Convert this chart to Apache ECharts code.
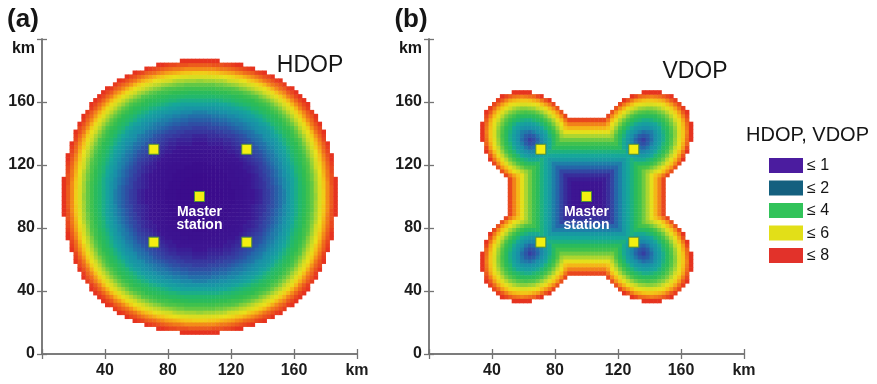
<!DOCTYPE html>
<html>
<head>
<meta charset="utf-8">
<script src="https://cdn.jsdelivr.net/npm/echarts@6/dist/echarts.min.js"></script>
<style>
  html, body { margin: 0; padding: 0; background: #ffffff; }
  #chart { width: 877px; height: 384px; }
</style>
</head>
<body>
<div id="chart"></div>
<script>
// ---- Data -----------------------------------------------------------------
const _ = null;   // cell outside the DOP <= 8 service area

// Axis ticks (km)
const axisTicks = [0, 40, 80, 120, 160, 200];

// Station positions (km)
const masterStation = [100, 100];
const slaveStationsX = [71, 130, 71, 130];
const slaveStationsY = [71, 71, 130, 130];

// Both DOP patterns are symmetric about the master station, so one quadrant is
// stored: row j / column i is the 2.5 km cell whose centre lies (i + 0.5) cells
// across and (j + 0.5) cells up from the master station.
const cellKm = 2.5;

const hdopQuadrant = [
  [0.6, 0.6, 0.6, 0.6, 0.6, 0.6, 0.7, 0.7, 0.7, 0.8, 0.8, 0.9, 1.0, 1.0, 1.1, 1.2, 1.4, 1.5, 1.7, 1.9, 2.1, 2.3, 2.6, 2.9, 3.2, 3.5, 3.8, 4.2, 4.6, 5.0, 5.7, 6.3, 7.1, 7.6, 8.0],
  [0.6, 0.6, 0.6, 0.6, 0.6, 0.6, 0.7, 0.7, 0.7, 0.8, 0.8, 0.9, 1.0, 1.0, 1.1, 1.2, 1.4, 1.5, 1.7, 1.9, 2.1, 2.3, 2.6, 2.9, 3.2, 3.5, 3.8, 4.2, 4.6, 5.1, 5.7, 6.3, 7.1, 7.6, 8.0],
  [0.6, 0.6, 0.6, 0.6, 0.6, 0.7, 0.7, 0.7, 0.8, 0.8, 0.8, 0.9, 1.0, 1.1, 1.2, 1.3, 1.4, 1.6, 1.7, 1.9, 2.1, 2.4, 2.6, 2.9, 3.2, 3.5, 3.8, 4.2, 4.6, 5.1, 5.7, 6.4, 7.1, 7.6, 8.0],
  [0.6, 0.6, 0.6, 0.6, 0.6, 0.7, 0.7, 0.7, 0.8, 0.8, 0.9, 0.9, 1.0, 1.1, 1.2, 1.3, 1.4, 1.6, 1.8, 2.0, 2.2, 2.4, 2.6, 2.9, 3.2, 3.5, 3.9, 4.2, 4.6, 5.1, 5.8, 6.4, 7.1, 7.7, 8.0],
  [0.6, 0.6, 0.6, 0.6, 0.7, 0.7, 0.7, 0.8, 0.8, 0.8, 0.9, 0.9, 1.0, 1.1, 1.2, 1.3, 1.5, 1.6, 1.8, 2.0, 2.2, 2.4, 2.7, 2.9, 3.2, 3.6, 3.9, 4.3, 4.7, 5.2, 5.8, 6.5, 7.2, 7.7, 8.0],
  [0.6, 0.6, 0.7, 0.7, 0.7, 0.7, 0.7, 0.8, 0.8, 0.9, 0.9, 1.0, 1.0, 1.1, 1.2, 1.4, 1.5, 1.7, 1.9, 2.1, 2.3, 2.5, 2.7, 3.0, 3.3, 3.6, 4.0, 4.3, 4.7, 5.2, 5.9, 6.6, 7.3, 7.7],
  [0.7, 0.7, 0.7, 0.7, 0.7, 0.7, 0.8, 0.8, 0.8, 0.9, 0.9, 1.0, 1.1, 1.2, 1.3, 1.4, 1.6, 1.7, 1.9, 2.1, 2.3, 2.5, 2.8, 3.0, 3.4, 3.7, 4.0, 4.4, 4.8, 5.3, 6.0, 6.7, 7.3, 7.8],
  [0.7, 0.7, 0.7, 0.7, 0.8, 0.8, 0.8, 0.8, 0.9, 0.9, 1.0, 1.1, 1.1, 1.2, 1.3, 1.5, 1.6, 1.8, 2.0, 2.2, 2.4, 2.6, 2.8, 3.1, 3.4, 3.7, 4.1, 4.4, 4.9, 5.5, 6.1, 6.8, 7.4, 7.8],
  [0.7, 0.7, 0.8, 0.8, 0.8, 0.8, 0.8, 0.9, 0.9, 1.0, 1.0, 1.1, 1.2, 1.3, 1.4, 1.5, 1.7, 1.9, 2.1, 2.3, 2.4, 2.7, 2.9, 3.2, 3.5, 3.8, 4.2, 4.5, 5.0, 5.6, 6.2, 6.9, 7.5, 7.9],
  [0.8, 0.8, 0.8, 0.8, 0.8, 0.9, 0.9, 0.9, 1.0, 1.0, 1.1, 1.2, 1.3, 1.4, 1.5, 1.6, 1.8, 2.0, 2.2, 2.3, 2.5, 2.7, 3.0, 3.3, 3.6, 3.9, 4.2, 4.6, 5.1, 5.7, 6.4, 7.1, 7.6, 8.0],
  [0.8, 0.8, 0.8, 0.9, 0.9, 0.9, 0.9, 1.0, 1.0, 1.1, 1.2, 1.3, 1.3, 1.5, 1.6, 1.7, 1.9, 2.1, 2.2, 2.4, 2.6, 2.8, 3.1, 3.4, 3.7, 4.0, 4.3, 4.8, 5.3, 5.9, 6.5, 7.2, 7.7, 8.0],
  [0.9, 0.9, 0.9, 0.9, 0.9, 1.0, 1.0, 1.1, 1.1, 1.2, 1.3, 1.3, 1.4, 1.6, 1.7, 1.8, 2.0, 2.2, 2.3, 2.5, 2.7, 2.9, 3.2, 3.5, 3.8, 4.1, 4.5, 4.9, 5.4, 6.0, 6.7, 7.4, 7.8],
  [1.0, 1.0, 1.0, 1.0, 1.0, 1.0, 1.1, 1.1, 1.2, 1.3, 1.3, 1.4, 1.6, 1.7, 1.8, 2.0, 2.1, 2.3, 2.4, 2.6, 2.8, 3.0, 3.3, 3.6, 3.9, 4.2, 4.6, 5.1, 5.6, 6.3, 6.9, 7.5, 7.9],
  [1.0, 1.0, 1.1, 1.1, 1.1, 1.1, 1.2, 1.2, 1.3, 1.4, 1.5, 1.6, 1.7, 1.8, 2.0, 2.1, 2.2, 2.4, 2.5, 2.7, 2.9, 3.2, 3.5, 3.8, 4.0, 4.4, 4.8, 5.3, 5.8, 6.5, 7.1, 7.6, 8.0],
  [1.1, 1.1, 1.2, 1.2, 1.2, 1.2, 1.3, 1.3, 1.4, 1.5, 1.6, 1.7, 1.8, 2.0, 2.1, 2.2, 2.4, 2.5, 2.6, 2.8, 3.1, 3.3, 3.6, 3.9, 4.2, 4.5, 5.0, 5.5, 6.1, 6.7, 7.3, 7.8],
  [1.2, 1.2, 1.3, 1.3, 1.3, 1.4, 1.4, 1.5, 1.5, 1.6, 1.7, 1.8, 2.0, 2.1, 2.2, 2.3, 2.5, 2.6, 2.8, 3.0, 3.2, 3.5, 3.8, 4.1, 4.4, 4.8, 5.2, 5.8, 6.3, 7.0, 7.5, 7.9],
  [1.4, 1.4, 1.4, 1.4, 1.5, 1.5, 1.6, 1.6, 1.7, 1.8, 1.9, 2.0, 2.1, 2.2, 2.4, 2.5, 2.6, 2.7, 2.9, 3.2, 3.4, 3.7, 3.9, 4.2, 4.6, 5.0, 5.5, 6.0, 6.6, 7.3, 7.7, 8.0],
  [1.5, 1.5, 1.6, 1.6, 1.6, 1.7, 1.7, 1.8, 1.9, 2.0, 2.1, 2.2, 2.3, 2.4, 2.5, 2.6, 2.7, 2.9, 3.1, 3.4, 3.6, 3.9, 4.1, 4.4, 4.8, 5.3, 5.8, 6.3, 7.0, 7.5, 7.8],
  [1.7, 1.7, 1.7, 1.8, 1.8, 1.9, 1.9, 2.0, 2.1, 2.2, 2.2, 2.3, 2.4, 2.5, 2.6, 2.8, 2.9, 3.1, 3.4, 3.6, 3.8, 4.1, 4.4, 4.7, 5.1, 5.6, 6.1, 6.7, 7.3, 7.7, 8.0],
  [1.9, 1.9, 1.9, 2.0, 2.0, 2.1, 2.1, 2.2, 2.3, 2.3, 2.4, 2.5, 2.6, 2.7, 2.8, 3.0, 3.2, 3.4, 3.6, 3.8, 4.0, 4.3, 4.6, 5.0, 5.4, 5.9, 6.5, 7.1, 7.5, 7.9],
  [2.1, 2.1, 2.1, 2.2, 2.2, 2.3, 2.3, 2.4, 2.4, 2.5, 2.6, 2.7, 2.8, 2.9, 3.1, 3.2, 3.4, 3.6, 3.8, 4.0, 4.3, 4.6, 4.9, 5.3, 5.8, 6.3, 6.9, 7.4, 7.7, 8.0],
  [2.3, 2.3, 2.4, 2.4, 2.4, 2.5, 2.5, 2.6, 2.7, 2.7, 2.8, 2.9, 3.0, 3.2, 3.3, 3.5, 3.7, 3.9, 4.1, 4.3, 4.6, 4.9, 5.3, 5.7, 6.2, 6.7, 7.2, 7.6, 7.9],
  [2.6, 2.6, 2.6, 2.6, 2.7, 2.7, 2.8, 2.8, 2.9, 3.0, 3.1, 3.2, 3.3, 3.5, 3.6, 3.8, 3.9, 4.1, 4.4, 4.6, 4.9, 5.3, 5.7, 6.1, 6.6, 7.2, 7.6, 7.9],
  [2.9, 2.9, 2.9, 2.9, 2.9, 3.0, 3.0, 3.1, 3.2, 3.3, 3.4, 3.5, 3.6, 3.8, 3.9, 4.1, 4.2, 4.4, 4.7, 5.0, 5.3, 5.7, 6.1, 6.6, 7.1, 7.5, 7.8, 8.0],
  [3.2, 3.2, 3.2, 3.2, 3.2, 3.3, 3.4, 3.4, 3.5, 3.6, 3.7, 3.8, 3.9, 4.0, 4.2, 4.4, 4.6, 4.8, 5.1, 5.4, 5.8, 6.2, 6.6, 7.1, 7.5, 7.8, 8.0],
  [3.5, 3.5, 3.5, 3.5, 3.6, 3.6, 3.7, 3.7, 3.8, 3.9, 4.0, 4.1, 4.2, 4.4, 4.5, 4.8, 5.0, 5.3, 5.6, 5.9, 6.3, 6.7, 7.2, 7.5, 7.8, 8.0],
  [3.8, 3.8, 3.8, 3.9, 3.9, 4.0, 4.0, 4.1, 4.2, 4.2, 4.3, 4.5, 4.6, 4.8, 5.0, 5.2, 5.5, 5.8, 6.1, 6.5, 6.9, 7.2, 7.6, 7.8, 8.0],
  [4.2, 4.2, 4.2, 4.2, 4.3, 4.3, 4.4, 4.4, 4.5, 4.6, 4.8, 4.9, 5.1, 5.3, 5.5, 5.8, 6.0, 6.3, 6.7, 7.1, 7.4, 7.6, 7.9, 8.0],
  [4.6, 4.6, 4.6, 4.6, 4.7, 4.7, 4.8, 4.9, 5.0, 5.1, 5.3, 5.4, 5.6, 5.8, 6.1, 6.3, 6.6, 7.0, 7.3, 7.5, 7.7, 7.9],
  [5.0, 5.1, 5.1, 5.1, 5.2, 5.2, 5.3, 5.5, 5.6, 5.7, 5.9, 6.0, 6.3, 6.5, 6.7, 7.0, 7.3, 7.5, 7.7, 7.9, 8.0],
  [5.7, 5.7, 5.7, 5.8, 5.8, 5.9, 6.0, 6.1, 6.2, 6.4, 6.5, 6.7, 6.9, 7.1, 7.3, 7.5, 7.7, 7.8, 8.0],
  [6.3, 6.3, 6.4, 6.4, 6.5, 6.6, 6.7, 6.8, 6.9, 7.1, 7.2, 7.4, 7.5, 7.6, 7.8, 7.9, 8.0],
  [7.1, 7.1, 7.1, 7.1, 7.2, 7.3, 7.3, 7.4, 7.5, 7.6, 7.7, 7.8, 7.9, 8.0],
  [7.6, 7.6, 7.6, 7.7, 7.7, 7.7, 7.8, 7.8, 7.9, 8.0, 8.0],
  [8.0, 8.0, 8.0, 8.0, 8.0]
];

const vdopQuadrant = [
  [0.9, 0.9, 1.0, 1.0, 1.1, 1.3, 1.6, 2.0, 2.3, 2.7, 3.0, 3.3, 3.8, 4.2, 4.7, 5.2, 5.9, 6.6, 7.2, 7.8],
  [0.9, 0.9, 1.0, 1.0, 1.1, 1.3, 1.6, 2.0, 2.3, 2.7, 3.0, 3.3, 3.8, 4.2, 4.7, 5.2, 5.9, 6.6, 7.2, 7.8],
  [1.0, 1.0, 1.0, 1.0, 1.1, 1.3, 1.6, 2.0, 2.3, 2.7, 3.0, 3.3, 3.8, 4.2, 4.7, 5.2, 5.9, 6.6, 7.2, 7.8],
  [1.0, 1.0, 1.0, 1.0, 1.1, 1.3, 1.6, 2.0, 2.3, 2.7, 3.0, 3.3, 3.8, 4.2, 4.7, 5.2, 5.9, 6.6, 7.2, 7.8],
  [1.1, 1.1, 1.1, 1.1, 1.1, 1.3, 1.6, 2.0, 2.3, 2.7, 3.0, 3.3, 3.8, 4.2, 4.7, 5.2, 5.9, 6.6, 7.2, 7.8],
  [1.3, 1.3, 1.3, 1.3, 1.3, 1.3, 1.6, 2.0, 2.3, 2.7, 3.0, 3.3, 3.8, 4.2, 4.7, 5.2, 5.9, 6.4, 6.8, 7.3, 7.8],
  [1.6, 1.6, 1.6, 1.6, 1.6, 1.6, 1.6, 2.0, 2.3, 2.7, 3.0, 3.3, 3.8, 4.2, 4.7, 5.0, 5.3, 5.7, 6.0, 6.5, 7.1, 7.7],
  [2.0, 2.0, 2.0, 2.0, 2.0, 2.0, 2.0, 2.0, 2.3, 2.7, 3.0, 3.3, 3.8, 4.2, 4.3, 4.4, 4.7, 5.0, 5.4, 5.9, 6.5, 7.0, 7.7],
  [2.3, 2.3, 2.3, 2.3, 2.3, 2.3, 2.3, 2.3, 2.3, 2.7, 3.0, 3.3, 3.7, 3.6, 3.7, 3.8, 4.1, 4.4, 4.8, 5.2, 5.8, 6.4, 7.1, 7.8],
  [2.7, 2.7, 2.7, 2.7, 2.7, 2.7, 2.7, 2.7, 2.7, 2.7, 3.0, 3.3, 3.1, 3.1, 3.1, 3.3, 3.5, 3.9, 4.3, 4.7, 5.3, 5.9, 6.6, 7.3, 8.0],
  [3.0, 3.0, 3.0, 3.0, 3.0, 3.0, 3.0, 3.0, 3.0, 3.0, 3.0, 2.9, 2.8, 2.7, 2.7, 2.8, 3.0, 3.4, 3.8, 4.3, 4.8, 5.4, 6.1, 6.9, 7.7],
  [3.3, 3.3, 3.3, 3.3, 3.3, 3.3, 3.3, 3.3, 3.3, 3.3, 2.9, 2.6, 2.5, 2.4, 2.4, 2.5, 2.7, 3.0, 3.4, 3.9, 4.4, 5.0, 5.7, 6.5, 7.3, 8.0],
  [3.8, 3.8, 3.8, 3.8, 3.8, 3.8, 3.8, 3.8, 3.7, 3.1, 2.8, 2.5, 2.3, 2.1, 2.0, 2.2, 2.5, 2.7, 3.1, 3.6, 4.1, 4.7, 5.4, 6.1, 6.9, 7.8],
  [4.2, 4.2, 4.2, 4.2, 4.2, 4.2, 4.2, 4.2, 3.6, 3.1, 2.7, 2.4, 2.1, 1.8, 1.7, 1.9, 2.3, 2.6, 2.9, 3.4, 3.9, 4.5, 5.1, 5.9, 6.7, 7.5],
  [4.7, 4.7, 4.7, 4.7, 4.7, 4.7, 4.7, 4.3, 3.7, 3.1, 2.7, 2.4, 2.0, 1.7, 1.5, 1.8, 2.1, 2.5, 2.8, 3.2, 3.8, 4.4, 5.0, 5.8, 6.5, 7.4, 8.0],
  [5.2, 5.2, 5.2, 5.2, 5.2, 5.2, 5.0, 4.4, 3.8, 3.3, 2.8, 2.5, 2.2, 1.9, 1.8, 1.9, 2.2, 2.5, 2.8, 3.2, 3.8, 4.3, 4.9, 5.7, 6.4, 7.3, 8.0],
  [5.9, 5.9, 5.9, 5.9, 5.9, 5.9, 5.3, 4.7, 4.1, 3.5, 3.0, 2.7, 2.5, 2.3, 2.1, 2.2, 2.3, 2.6, 2.9, 3.3, 3.8, 4.4, 4.9, 5.7, 6.4, 7.2, 8.0],
  [6.6, 6.6, 6.6, 6.6, 6.6, 6.4, 5.7, 5.0, 4.4, 3.9, 3.4, 3.0, 2.7, 2.6, 2.5, 2.5, 2.6, 2.8, 3.0, 3.5, 3.9, 4.5, 5.0, 5.8, 6.5, 7.3, 8.0],
  [7.2, 7.2, 7.2, 7.2, 7.2, 6.8, 6.0, 5.4, 4.8, 4.3, 3.8, 3.4, 3.1, 2.9, 2.8, 2.8, 2.9, 3.0, 3.3, 3.7, 4.2, 4.7, 5.2, 5.9, 6.6, 7.4, 8.0],
  [7.8, 7.8, 7.8, 7.8, 7.8, 7.3, 6.5, 5.9, 5.2, 4.7, 4.3, 3.9, 3.6, 3.4, 3.2, 3.2, 3.3, 3.5, 3.7, 4.1, 4.5, 4.9, 5.5, 6.1, 6.8, 7.6],
  [_, _, _, _, _, 7.8, 7.1, 6.5, 5.8, 5.3, 4.8, 4.4, 4.1, 3.9, 3.8, 3.8, 3.8, 3.9, 4.2, 4.5, 4.8, 5.3, 5.9, 6.5, 7.2, 7.8],
  [_, _, _, _, _, _, 7.7, 7.0, 6.4, 5.9, 5.4, 5.0, 4.7, 4.5, 4.4, 4.3, 4.4, 4.5, 4.7, 4.9, 5.3, 5.8, 6.3, 6.9, 7.6, 8.0],
  [_, _, _, _, _, _, _, 7.7, 7.1, 6.6, 6.1, 5.7, 5.4, 5.1, 5.0, 4.9, 4.9, 5.0, 5.2, 5.5, 5.9, 6.3, 6.8, 7.4, 7.9],
  [_, _, _, _, _, _, _, _, 7.8, 7.3, 6.9, 6.5, 6.1, 5.9, 5.8, 5.7, 5.7, 5.8, 5.9, 6.1, 6.5, 6.9, 7.4, 7.8],
  [_, _, _, _, _, _, _, _, _, 8.0, 7.7, 7.3, 6.9, 6.7, 6.5, 6.4, 6.4, 6.5, 6.6, 6.8, 7.2, 7.6, 7.9],
  [_, _, _, _, _, _, _, _, _, _, _, 8.0, 7.8, 7.5, 7.4, 7.3, 7.2, 7.3, 7.4, 7.6, 7.8, 8.0],
  [_, _, _, _, _, _, _, _, _, _, _, _, _, _, 8.0, 8.0, 8.0, 8.0, 8.0]
];

// Legend classes
const legendLabels = ['\u2264 1', '\u2264 2', '\u2264 4', '\u2264 6', '\u2264 8'];
const legendColors = ['#4b1c9f', '#14607f', '#31c35a', '#e2df18', '#e2322a'];

// Continuous colour ramp for DOP 0 … 8 (one stop every 0.5)
const dopRamp = ['#380886', '#3a0a8a', '#3d1592', '#353ea1', '#2566a9', '#1990a8',
                 '#16a79a', '#22b86c', '#30bd52', '#55c647', '#96d237', '#cedb25',
                 '#e9e01a', '#f4c017', '#f49518', '#ee661c', '#e6331f'];

// ---- Helpers ----------------------------------------------------------------
const FONT = "'Liberation Sans', Arial, Helvetica, sans-serif";

// Expand a stored quadrant into the full grid around the master station.
function expandQuadrant(rows) {
  const cells = [];
  rows.forEach(function (row, j) {
    row.forEach(function (v, i) {
      if (v == null) return;
      const dx = cellKm * (i + 0.5);
      const dy = cellKm * (j + 0.5);
      [[1, 1], [-1, 1], [1, -1], [-1, -1]].forEach(function (s) {
        cells.push([masterStation[0] + s[0] * dx, masterStation[1] + s[1] * dy, v]);
      });
    });
  });
  return cells;
}

function renderCell(params, api) {
  const x = api.value(0), y = api.value(1), h = cellKm / 2;
  const a = api.coord([x - h, y + h]);
  const b = api.coord([x + h, y - h]);
  return {
    type: 'rect',
    shape: { x: a[0], y: a[1], width: b[0] - a[0] + 0.5, height: b[1] - a[1] + 0.5 },
    style: { fill: api.visual('color') }
  };
}

const grids = [
  { left: 42, top: 39, width: 315, height: 315 },
  { left: 429, top: 39, width: 315, height: 315 }
];

const axisLineStyle = { color: '#747474', width: 1.5 };
const tickStyle = { show: true, inside: true, length: 5, lineStyle: { color: '#747474', width: 1.3 } };
const labelFont = { fontFamily: FONT, fontSize: 16, fontWeight: 'bold', color: '#1c1c1c' };

const xAxes = [], yAxes = [];
grids.forEach(function (g, gi) {
  const common = { type: 'value', gridIndex: gi, min: axisTicks[0], max: axisTicks[axisTicks.length - 1],
                   interval: axisTicks[1] - axisTicks[0], splitLine: { show: false },
                   axisLine: { show: true, lineStyle: axisLineStyle }, axisTick: tickStyle };
  xAxes.push(Object.assign({}, common, {
    position: 'bottom',
    axisLabel: Object.assign({ margin: 9, formatter: function (v) {
      return v === 0 ? '' : (v === 200 ? 'km' : String(v)); } }, labelFont)
  }));
  xAxes.push(Object.assign({}, common, { position: 'top', axisLabel: { show: false } }));
  yAxes.push(Object.assign({}, common, {
    position: 'left',
    axisLabel: Object.assign({ margin: 7, formatter: function (v) {
      return v === 200 ? '' : String(v); } }, labelFont)
  }));
  yAxes.push(Object.assign({}, common, { position: 'right', axisLabel: { show: false } }));
});

const fields = [expandQuadrant(hdopQuadrant), expandQuadrant(vdopQuadrant)];

const markerStyle = { color: '#f3ef10', borderColor: '#4f8f3a', borderWidth: 1, opacity: 1 };

const series = [];
fields.forEach(function (cells, gi) {
  series.push({
    type: 'custom',
    xAxisIndex: 2 * gi, yAxisIndex: 2 * gi,
    dimensions: ['x', 'y', 'dop'],
    encode: { x: 0, y: 1 },
    renderItem: renderCell,
    data: cells,
    z: 1,
    silent: true
  });
});
grids.forEach(function (g, gi) {
  series.push({
    type: 'scatter',
    xAxisIndex: 2 * gi, yAxisIndex: 2 * gi,
    symbol: 'rect', symbolSize: 10,
    itemStyle: markerStyle,
    data: slaveStationsX.map(function (x, k) { return [x, slaveStationsY[k]]; }),
    z: 5, silent: true
  });
  series.push({
    type: 'scatter',
    xAxisIndex: 2 * gi, yAxisIndex: 2 * gi,
    symbol: 'rect', symbolSize: 10,
    itemStyle: markerStyle,
    label: { show: true, position: 'bottom', distance: 3, formatter: 'Master\nstation',
             color: '#ffffff', fontFamily: FONT, fontSize: 14, fontWeight: 'bold', lineHeight: 13.5 },
    data: [masterStation],
    z: 6, silent: true
  });
});

function txt(x, y, s, size, weight, align, vAlign) {
  return { type: 'text', x: x, y: y, z: 20,
           style: { text: s, fontFamily: FONT, fontSize: size, fontWeight: weight || 'normal',
                    fill: '#151515', align: align || 'left', verticalAlign: vAlign || 'middle' } };
}

const graphics = [
  txt(23, 20, '(a)', 26, 'bold', 'center'),
  txt(411, 20, '(b)', 26, 'bold', 'center'),
  txt(35, 49, 'km', 16, 'bold', 'right'),
  txt(422, 49, 'km', 16, 'bold', 'right'),
  txt(310, 66, 'HDOP', 23, 'normal', 'center'),
  txt(695, 72, 'VDOP', 23, 'normal', 'center'),
  txt(746, 135, 'HDOP, VDOP', 20, 'normal', 'left')
];
legendLabels.forEach(function (label, k) {
  const top = 158 + k * 22.5;
  graphics.push({ type: 'rect', z: 20, shape: { x: 769, y: top, width: 34, height: 15 },
                  style: { fill: legendColors[k] } });
  graphics.push(txt(807, top + 8, label, 16, 'normal', 'left'));
});

const chart = echarts.init(document.getElementById('chart'), null, { renderer: 'canvas' });
chart.setOption({
  animation: false,
  backgroundColor: '#ffffff',
  grid: grids,
  xAxis: xAxes,
  yAxis: yAxes,
  visualMap: {
    type: 'continuous', show: false, min: 0, max: 8, dimension: 2,
    seriesIndex: [0, 1], inRange: { color: dopRamp }
  },
  series: series,
  graphic: graphics
});
</script>
</body>
</html>
